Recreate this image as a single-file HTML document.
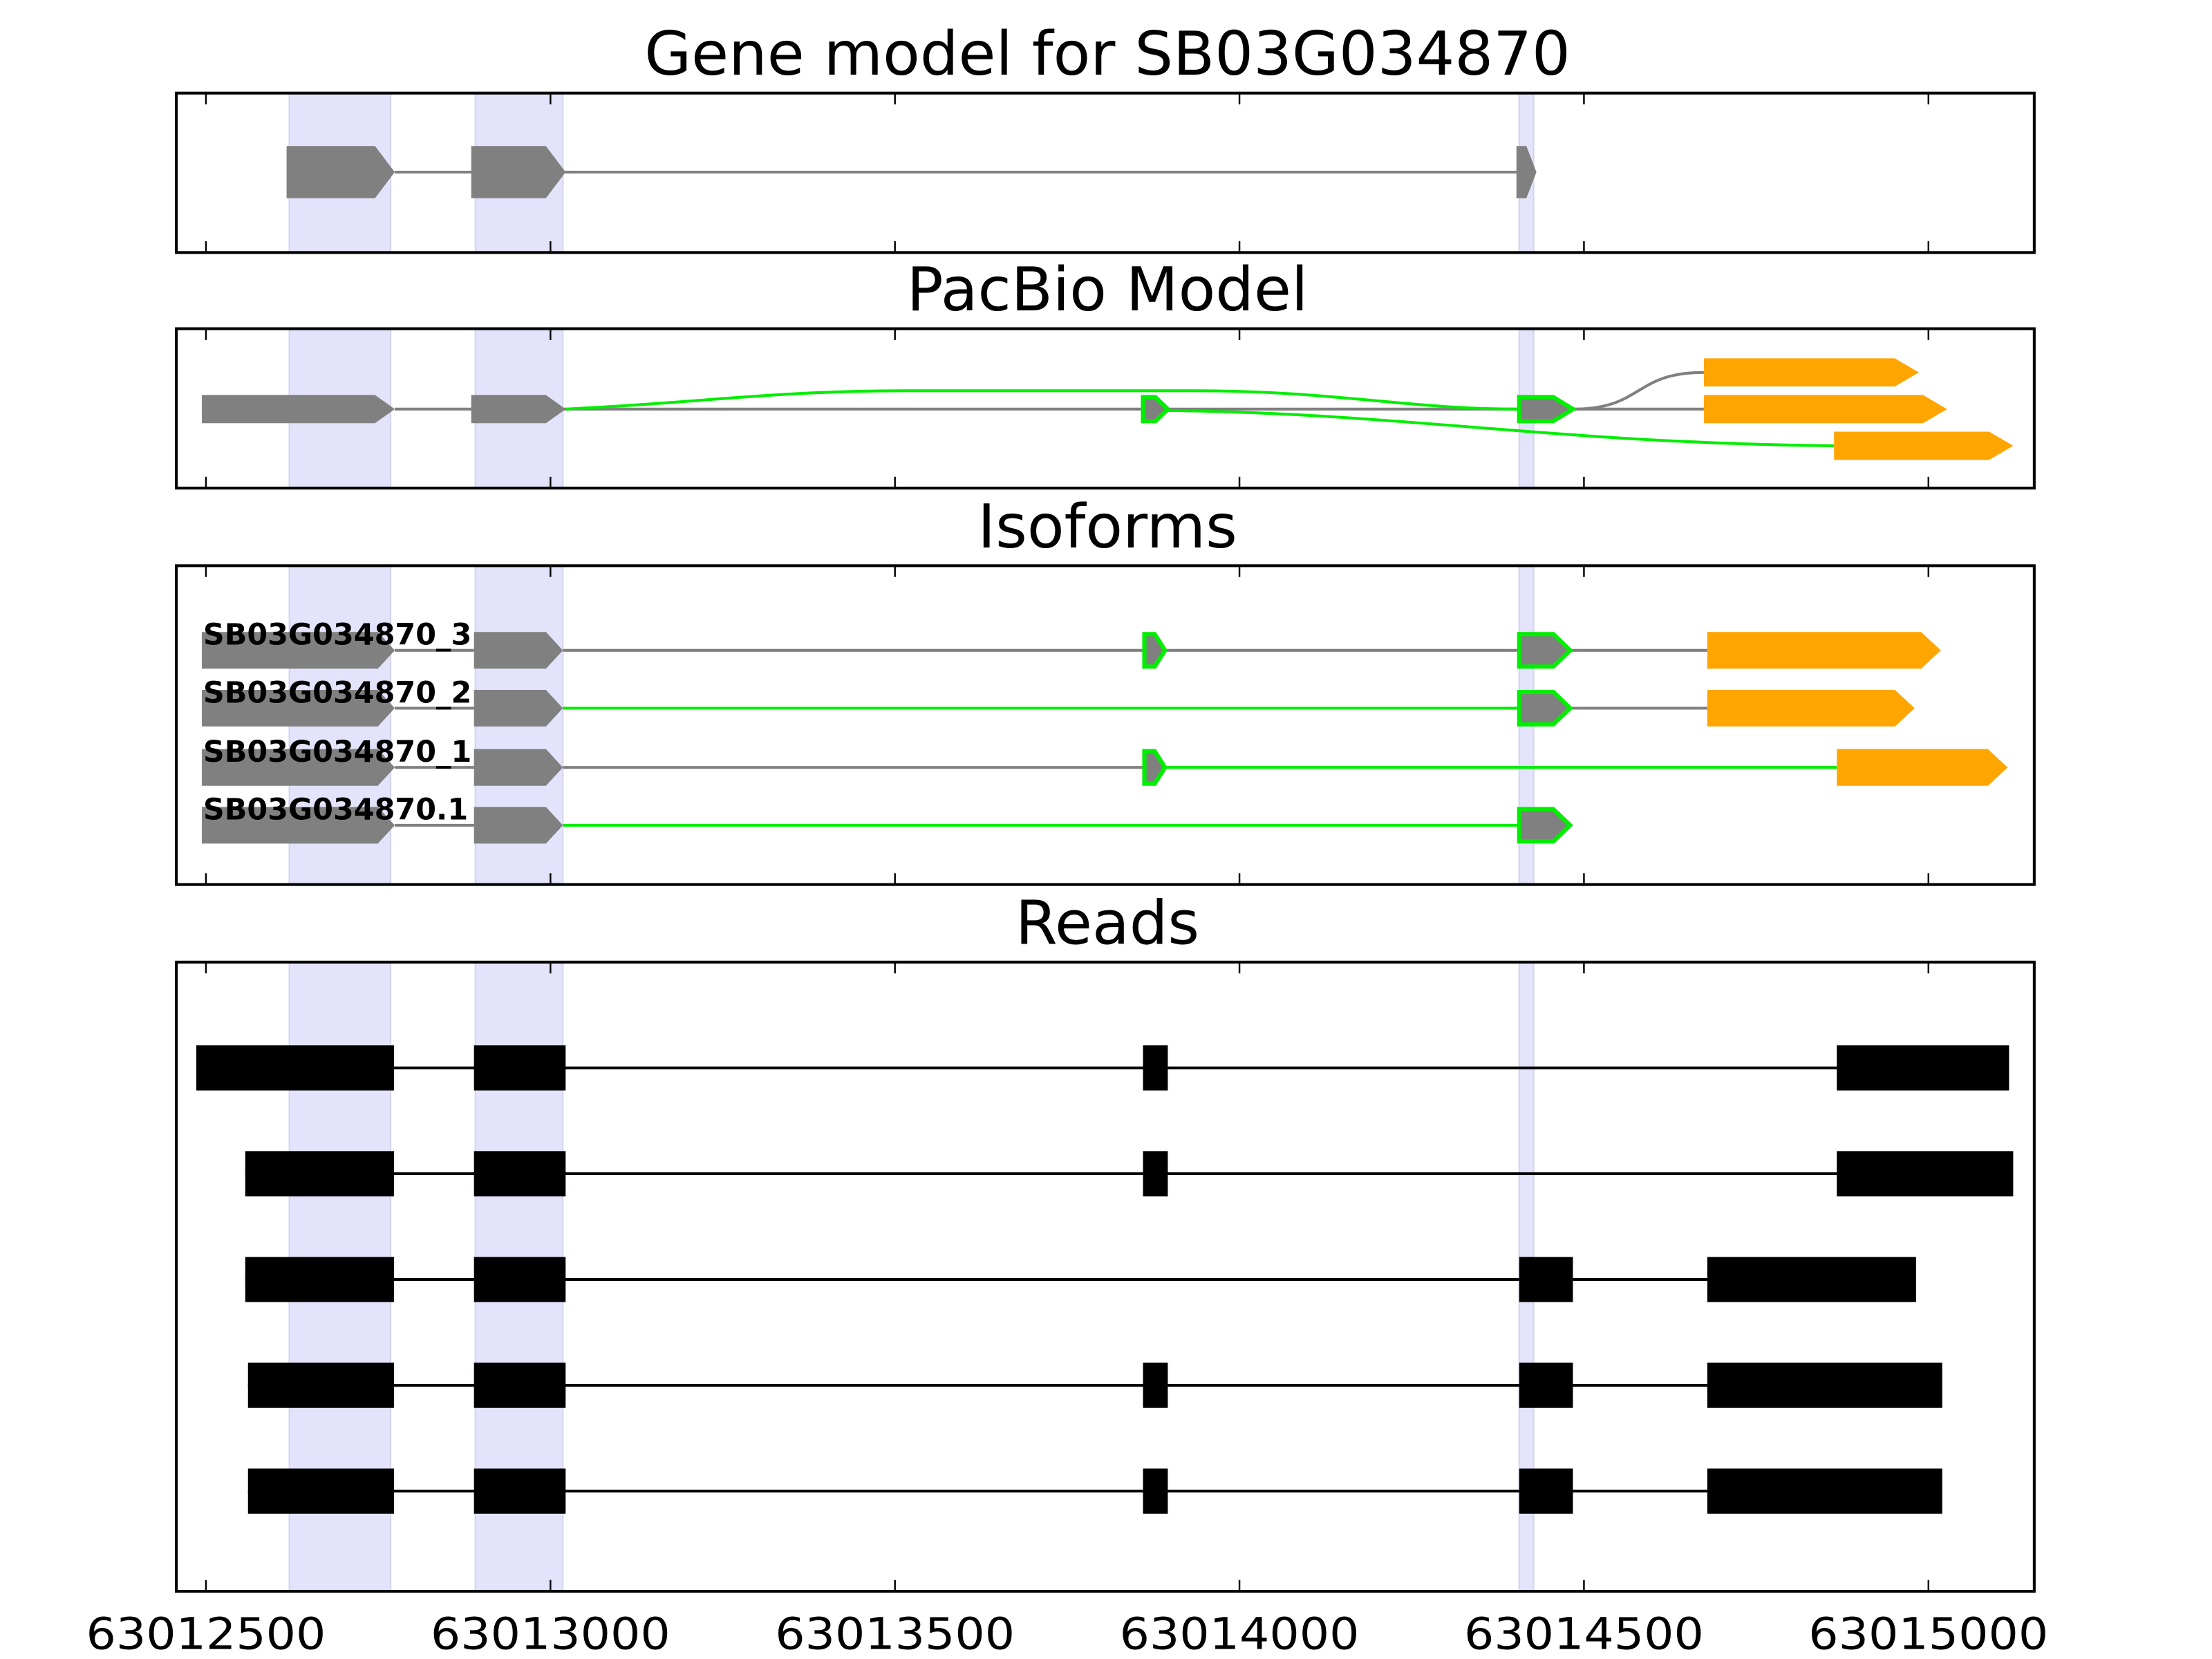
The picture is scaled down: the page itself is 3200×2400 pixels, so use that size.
<!DOCTYPE html>
<html><head><meta charset="utf-8"><style>html,body{margin:0;padding:0;background:#fff}svg{display:block}</style></head>
<body>
<svg id="chart" xmlns="http://www.w3.org/2000/svg" width="3200" height="2400" viewBox="0 0 1568 1176" font-family="DejaVu Sans, Liberation Sans, sans-serif"></svg>
<script>
const tickValues = [63012500, 63013000, 63013500, 63014000, 63014500, 63015000];
const tickLabels = ["63012500", "63013000", "63013500", "63014000", "63014500", "63015000"];
const shadedRegions = [[63012621, 63012768], [63012891, 63013018], [63014406, 63014427]];
const geneExons = [[63012617, 63012774], [63012885, 63013022], [63014402, 63014431]];
const pacMainExons = [[63012494, 63012774], [63012885, 63013022]];
const pacGreenExons = [[63013860, 63013896], [63014406, 63014484]];
const pacOrangeExons = [[63014674, 63014986, 0], [63014674, 63015027, 1], [63014863, 63015123, 2]];
const isoNames = ["SB03G034870_3", "SB03G034870_2", "SB03G034870_1", "SB03G034870.1"];
const isoExons = [
  [[63012494,63012774,'g'],[63012889,63013018,'g'],[63013862,63013892,'n'],[63014406,63014480,'n'],[63014679,63015018,'o']],
  [[63012494,63012774,'g'],[63012889,63013018,'g'],[63014406,63014480,'n'],[63014679,63014980,'o']],
  [[63012494,63012774,'g'],[63012889,63013018,'g'],[63013862,63013892,'n'],[63014867,63015115,'o']],
  [[63012494,63012774,'g'],[63012889,63013018,'g'],[63014406,63014480,'n']]
];
const isoIntronColors = [['gray','gray','gray','gray'],['lime','gray'],['gray','lime'],['lime']];
const readExons = [
  [[63012486,63012773],[63012889,63013022],[63013860,63013896],[63014867,63015117]],
  [[63012557,63012773],[63012889,63013022],[63013860,63013896],[63014867,63015123]],
  [[63012557,63012773],[63012889,63013022],[63014406,63014484],[63014679,63014982]],
  [[63012561,63012773],[63012889,63013022],[63013860,63013896],[63014406,63014484],[63014679,63015020]],
  [[63012561,63012773],[63012889,63013022],[63013860,63013896],[63014406,63014484],[63014679,63015020]]
];

const svg = document.getElementById('chart');
const NS = 'http://www.w3.org/2000/svg';
function x(v){ return 146 + (v - 63012500) * 0.4884; }
function mk(tag, attrs, parent){ const e = document.createElementNS(NS, tag); for (const k in attrs) e.setAttribute(k, attrs[k]); (parent||svg).appendChild(e); return e; }
const GRAY='#808080', GREEN='#00ee00', ORANGE='#ffa500';
function arrowPts(x1,x2,cy,h,tip){ const t=Math.min(tip,(x2-x1)*0.5); return `${x1},${cy-h/2} ${x2-t},${cy-h/2} ${x2},${cy} ${x2-t},${cy+h/2} ${x1},${cy+h/2}`; }

const panels = [
  {name:'gene-model-panel', title:'Gene model for SB03G034870', y1:66, y2:179, ty:53},
  {name:'pacbio-panel', title:'PacBio Model', y1:233, y2:346, ty:220},
  {name:'isoforms-panel', title:'Isoforms', y1:401, y2:627, ty:388},
  {name:'reads-panel', title:'Reads', y1:682, y2:1128, ty:669}
];
const groups = {};
panels.forEach(p => {
  const g = mk('g', {});
  
  
  groups[p.name] = g;
  shadedRegions.forEach(r => {
    const s = mk('rect', {x:x(r[0]), y:p.y1, width:x(r[1])-x(r[0]), height:p.y2-p.y1, fill:'#e3e3fb', stroke:'#d4d4ee', 'stroke-width':1}, g);
    
    
  });
  const t = mk('text', {x:785, y:p.ty, 'text-anchor':'middle', 'font-size':43, fill:'#000'}, g);
  t.textContent = p.title;
  
  
});

{
  const g = groups['gene-model-panel'], cy = 122;
  mk('line', {x1:x(geneExons[0][1]), x2:x(geneExons[2][0]), y1:cy, y2:cy, stroke:GRAY, 'stroke-width':2}, g);
  geneExons.forEach(e => {
    const p = mk('polygon', {points:arrowPts(x(e[0]),x(e[1]),cy,37,14), fill:GRAY}, g);
    
    
  });
}
{
  const g = groups['pacbio-panel'], cy = 290, rows = [264, 290, 316];
  const gx1 = x(pacMainExons[1][1]), gx2 = x(pacGreenExons[1][0]);
  mk('line', {x1:x(pacMainExons[0][1]), x2:x(pacOrangeExons[1][0]), y1:cy, y2:cy, stroke:GRAY, 'stroke-width':2}, g);
  const c1 = mk('path', {d:`M${gx1},${cy} C${gx1+100},${cy-5} ${gx1+150},${cy-13} ${gx1+240},${cy-13} L${gx2-230},${cy-13} C${gx2-130},${cy-13} ${gx2-80},${cy} ${gx2},${cy}`, fill:'none', stroke:GREEN, 'stroke-width':2}, g);
  
  
  const bx1 = x(pacGreenExons[0][1]), bx2 = x(pacOrangeExons[2][0]);
  const c2 = mk('path', {d:`M${bx1},${cy+1} C${bx1+170},${cy+3} ${bx2-200},${rows[2]-2} ${bx2},${rows[2]}`, fill:'none', stroke:GREEN, 'stroke-width':2}, g);
  
  
  const ax1 = x(pacGreenExons[1][1]), ax2 = x(pacOrangeExons[0][0]);
  const c3 = mk('path', {d:`M${ax1},${cy} C${ax1+50},${cy} ${ax2-50},${rows[0]} ${ax2},${rows[0]}`, fill:'none', stroke:GRAY, 'stroke-width':2}, g);
  
  
  pacMainExons.forEach(e => {
    const p = mk('polygon', {points:arrowPts(x(e[0]),x(e[1]),cy,20,14), fill:GRAY}, g);
    
    
  });
  pacGreenExons.forEach(e => {
    const p = mk('polygon', {points:arrowPts(x(e[0]),x(e[1]),cy,17,14), fill:GRAY, stroke:GREEN, 'stroke-width':3}, g);
    
    
  });
  pacOrangeExons.forEach(e => {
    const p = mk('polygon', {points:arrowPts(x(e[0]),x(e[1]),rows[e[2]],20,17), fill:ORANGE}, g);
    
    
  });
}
{
  const g = groups['isoforms-panel'], rows = [461, 502, 544, 585];
  isoExons.forEach((ex, i) => {
    const cy = rows[i];
    for (let j = 0; j < ex.length - 1; j++) {
      const col = j === 0 ? 'gray' : isoIntronColors[i][j-1];
      mk('line', {x1:x(ex[j][1]), x2:x(ex[j+1][0]), y1:cy, y2:cy, stroke:col==='gray'?GRAY:GREEN, 'stroke-width':2}, g);
    }
    ex.forEach(e => {
      let attrs = {points:arrowPts(x(e[0]),x(e[1]),cy,e[2]==='n'?23:26,e[2]==='o'?14:12), fill:e[2]==='o'?ORANGE:GRAY};
      if (e[2]==='n') { attrs.stroke = GREEN; attrs['stroke-width'] = 3; }
      const p = mk('polygon', attrs, g);
      
      
    });
    const t = mk('text', {x:144, y:cy-4, 'font-size':21, 'font-weight':'bold', fill:'#000'}, g);
    t.textContent = isoNames[i];
    
    
  });
}
{
  const g = groups['reads-panel'], rows = [757, 832, 907, 982, 1057];
  readExons.forEach((ex, i) => {
    const cy = rows[i];
    mk('line', {x1:x(ex[0][0]), x2:x(ex[ex.length-1][0]), y1:cy, y2:cy, stroke:'#000', 'stroke-width':2}, g);
    ex.forEach(e => {
      const r = mk('rect', {x:x(e[0]), y:cy-16, width:x(e[1])-x(e[0]), height:32, fill:'#000'}, g);
      
      
    });
  });
}
panels.forEach((p, pi) => {
  const g = groups[p.name];
  const f = mk('rect', {x:125, y:p.y1, width:1317, height:p.y2-p.y1, fill:'none', stroke:'#000', 'stroke-width':2}, g);
  
  
  tickValues.forEach((v, i) => {
    mk('line', {x1:x(v), x2:x(v), y1:p.y1, y2:p.y1+8, stroke:'#000', 'stroke-width':1.2}, g);
    mk('line', {x1:x(v), x2:x(v), y1:p.y2, y2:p.y2-8, stroke:'#000', 'stroke-width':1.2}, g);
    if (pi === 3) {
      const t = mk('text', {x:x(v), y:1169, 'text-anchor':'middle', 'font-size':31, textLength:170, lengthAdjust:'spacingAndGlyphs', fill:'#000'}, g);
      t.textContent = tickLabels[i];
      
      
    }
  });
});
</script>
</body></html>
